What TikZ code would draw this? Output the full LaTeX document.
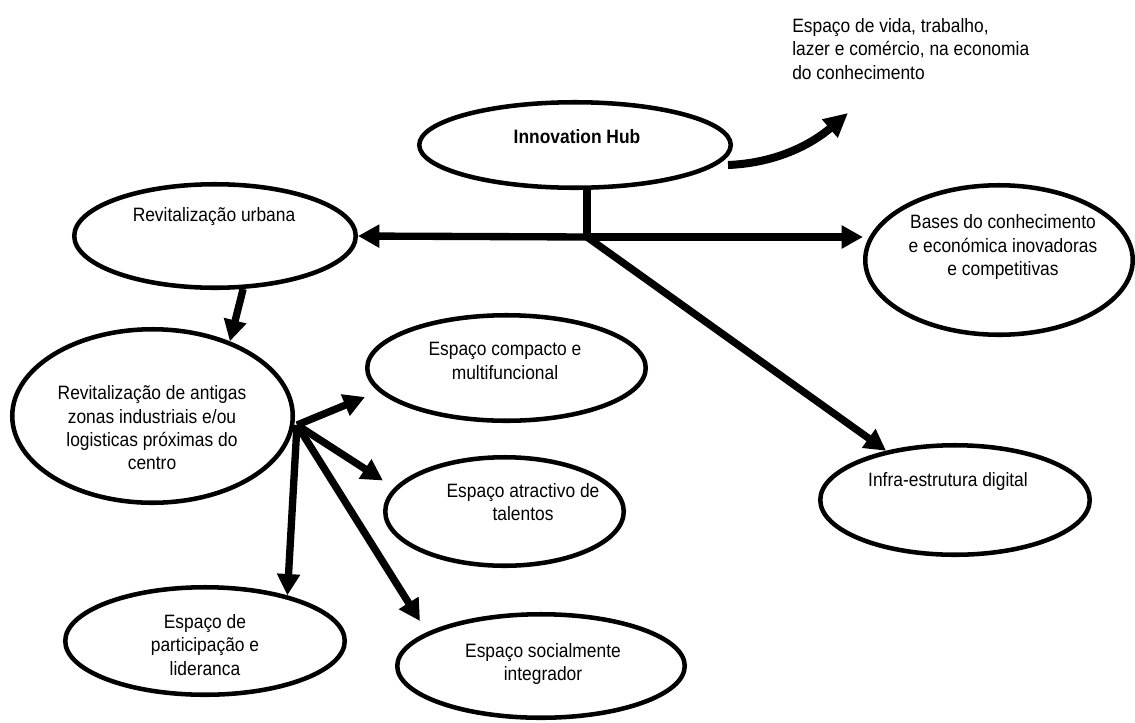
\documentclass[tikz,border=0pt]{standalone}
\usepackage{fontspec}
\setmainfont{Liberation Sans}[FakeStretch=0.9]
\usetikzlibrary{shapes.geometric,arrows.meta,calc}
\begin{document}
\begin{tikzpicture}[x=0.75pt,y=-0.75pt,
  bubble/.style 2 args={ellipse, draw, line width=3.4pt,
    minimum width=#1*0.75pt, minimum height=#2*0.75pt, inner sep=0pt},
  caption/.style={font=\fontsize{14.5}{17.5}\selectfont, align=center, inner sep=0pt},
  link/.style={line width=5.5pt},
  flow/.style={link, -{Triangle[length=16pt,width=16.5pt]}},
]
\useasboundingbox (0,0) rectangle (1135,722);

% ellipses
\node[bubble={311.5}{85.5}] (hub) at (575,145) {};
\node[caption, font=\fontsize{14.5}{17.5}\selectfont\bfseries] (hubtxt) at (577,137) {Innovation Hub};

\node[bubble={281.5}{103.5}] (revu) at (215,236) {};
\node[caption] (revutxt) at (214,217) {Revitalização urbana};

\node[bubble={280.5}{173.5}] (revd) at (152.5,416) {};
\node[caption] (revdtxt) at (152,428) {Revitalização de antigas\\zonas industriais e/ou\\logisticas próximas do\\centro};

\node[bubble={278.5}{105.5}] (comp) at (506.5,368) {};
\node[caption] (comptxt) at (505,361) {Espaço compacto e\\multifuncional};

\node[bubble={238.5}{108.5}] (tal) at (504.5,511.5) {};
\node[caption] (taltxt) at (523,502) {Espaço atractivo de\\talentos};

\node[bubble={279.5}{107.5}] (part) at (205,641) {};
\node[caption] (parttxt) at (205,645) {Espaço de\\participação e\\lideranca};

\node[bubble={287.5}{103.5}] (soc) at (541,666) {};
\node[caption] (soctxt) at (543,664) {Espaço socialmente\\integrador};

\node[bubble={267.5}{149.5}] (bases) at (999,260) {};
\node[caption] (basestxt) at (1003,247) {Bases do conhecimento\\e económica inovadoras\\e competitivas};

\node[bubble={269.5}{109.5}] (infra) at (955,500) {};
\node[caption] (infratxt) at (948,481) {Infra-estrutura digital};

\node[caption, align=left, anchor=west] (life) at (792,49)
  {Espaço de vida, trabalho,\\lazer e comércio, na economia\\do conhecimento};

% connectors from the hub
\coordinate (j) at (587,237);
\draw[link] (hub.south -| j) -- (j);
\draw[flow] (j) -- (revu.east);
\draw[flow] (j) -- (j -| bases.west);
\draw[flow] (j) -- (infra);

% curved arrow towards the description
\coordinate (lifetip) at (848,113);
\draw[link, line width=6pt, -{Triangle[length=18pt,width=17pt]}]
  ($(hub.east)+(-5,20)$) .. controls +(50,-2) and +(-35,30) .. (lifetip);

% revitalisation branch
\draw[flow] (revu.-62) -- (revd.44);
\coordinate (fan) at (297,425);
\draw[flow] (fan) -- ($(comp.west)+(0,29)$);
\draw[flow] (fan) -- ($(tal.west)+(0,-31)$);
\draw[flow] (fan) -- (part.29);
\draw[flow] (fan) -- ($(soc.west)+(25,-45)$);
\end{tikzpicture}
\end{document}
